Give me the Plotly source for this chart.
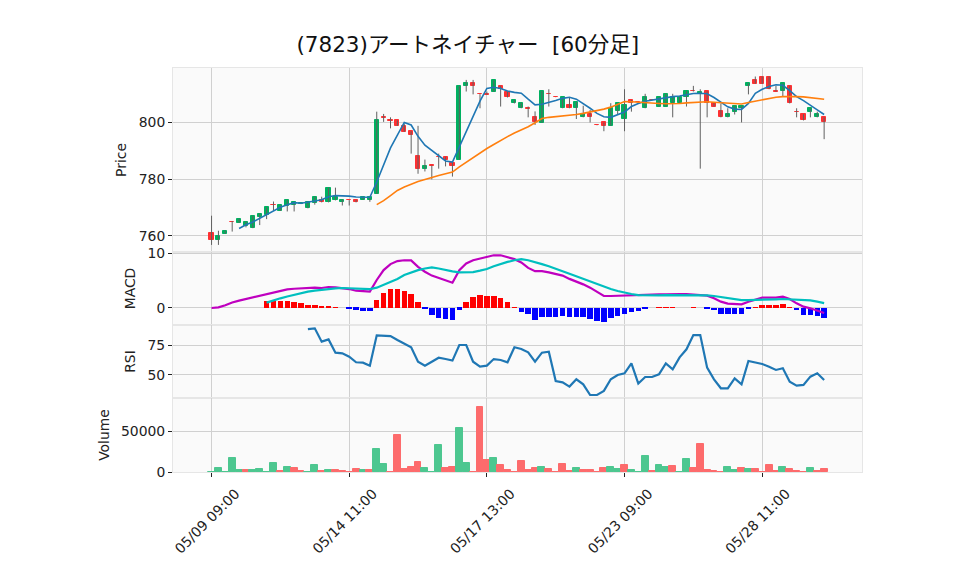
import plotly.graph_objects as go
from plotly.subplots import make_subplots

# trading days and hourly bars (6 bars a day)
days = ["05/09", "05/10", "05/13", "05/14", "05/15", "05/16", "05/17", "05/20",
        "05/21", "05/22", "05/23", "05/24", "05/27", "05/28", "05/29"]
hours = ["09:00", "10:00", "11:00", "12:00", "13:00", "14:00"]
times = [d + " " + h for d in days for h in hours]

opens = [761.1, 758.7, 760.8, 765.0, 764.7, 763.6, 762.7, 766.7, 767.5, 771.0,
         768.8, 770.7, 770.9, 771.3, 769.7, 771.5, 772.5, 771.8, 772.5, 771.8,
         772.6, 772.7, 772.7, 772.7, 774.8, 801.8, 800.7, 800.7, 798.8, 796.9,
         788.0, 783.5, 784.8, 787.9, 787.9, 785.8, 786.9, 812.7, 813.8, 810.0,
         810.1, 810.9, 812.9, 810.9, 806.7, 805.0, 805.0, 801.8, 799.9, 810.1,
         809.0, 805.0, 806.1, 805.0, 801.8, 802.9, 799.0, 800.0, 798.9, 804.0,
         801.2, 807.9, 807.2, 805.0, 807.9, 805.6, 805.6, 806.7, 806.7, 808.9,
         811.0, 810.0, 811.0, 807.0, 804.0, 801.8, 803.8, 805.0, 812.7, 815.0,
         816.2, 816.2, 811.1, 811.0, 812.9, 803.8, 802.9, 803.8, 801.8, 801.8]
highs = [767.1, 761.8, 761.8, 765.2, 766.0, 765.0, 767.1, 767.8, 770.0, 772.1,
         770.8, 772.7, 772.0, 771.6, 772.0, 773.8, 773.8, 777.0, 777.0, 772.8,
         772.6, 772.7, 773.8, 773.6, 803.8, 803.0, 801.8, 800.7, 799.6, 796.9,
         798.8, 786.9, 784.8, 789.0, 787.9, 785.8, 812.8, 815.0, 815.0, 810.0,
         810.9, 814.9, 812.9, 810.9, 807.9, 806.9, 805.6, 803.9, 811.1, 811.7,
         809.0, 808.8, 808.8, 807.2, 805.9, 804.4, 799.0, 800.0, 806.8, 806.7,
         811.7, 807.9, 807.2, 810.1, 807.9, 808.9, 810.1, 810.1, 808.9, 811.1,
         812.9, 811.7, 811.0, 807.0, 806.7, 805.0, 805.9, 805.9, 813.8, 816.2,
         816.2, 816.2, 812.9, 813.8, 812.9, 805.0, 802.9, 805.0, 803.8, 801.8]
lows = [756.8, 756.8, 760.8, 761.5, 764.6, 763.0, 762.7, 763.8, 765.9, 768.9,
        768.8, 768.6, 768.6, 771.2, 769.7, 771.0, 771.8, 771.8, 772.5, 770.7,
        770.7, 771.8, 772.7, 772.0, 774.8, 800.2, 797.9, 798.8, 796.7, 789.0,
        781.9, 782.7, 779.9, 783.7, 784.5, 780.9, 786.9, 810.9, 809.9, 805.0,
        809.8, 810.9, 805.6, 808.8, 806.7, 805.0, 801.8, 799.1, 799.9, 805.6,
        808.9, 805.0, 805.0, 801.2, 801.8, 800.0, 798.9, 796.9, 798.9, 802.8,
        796.9, 803.8, 807.1, 805.0, 807.8, 805.6, 805.6, 801.8, 806.7, 805.6,
        810.9, 783.7, 801.8, 805.6, 801.8, 801.8, 802.8, 800.0, 809.9, 813.7,
        813.6, 811.7, 810.9, 809.1, 806.7, 801.8, 800.7, 801.8, 801.8, 794.1]
closes = [758.7, 760.0, 761.8, 764.8, 765.9, 765.0, 767.1, 767.8, 770.0, 770.9,
          770.8, 772.7, 772.0, 771.5, 772.0, 773.8, 771.8, 777.0, 773.8, 772.8,
          772.5, 771.8, 773.8, 773.6, 800.7, 801.7, 800.6, 798.8, 796.7, 795.6,
          783.5, 784.7, 784.7, 787.8, 786.7, 784.6, 812.8, 813.8, 812.7, 809.9,
          809.8, 814.9, 811.8, 808.8, 807.9, 806.9, 804.9, 800.2, 811.1, 810.0,
          808.95, 808.8, 805.0, 807.2, 802.9, 801.8, 798.95, 798.9, 805.0, 806.7,
          806.1, 806.7, 807.1, 808.9, 807.8, 808.9, 810.1, 808.9, 808.9, 811.1,
          810.95, 810.9, 806.7, 805.6, 801.8, 802.9, 805.9, 805.8, 813.8, 813.7,
          813.6, 811.7, 810.9, 813.8, 806.7, 803.7, 800.7, 805.0, 803.0, 800.0]
volumes = [300, 4400, 300, 17600, 2000, 2000, 2000, 3200, 300, 11600,
           800, 5600, 4400, 800, 300, 9200, 800, 2000, 2000, 800,
           300, 3200, 2000, 2000, 28400, 10400, 300, 45200, 3200, 5600,
           12800, 4400, 300, 33200, 4400, 5600, 53600, 11600, 300, 80000,
           15200, 17600, 9200, 2000, 300, 14000, 2000, 4400, 5600, 3200,
           300, 10400, 800, 4400, 2000, 2000, 300, 4400, 5600, 3200,
           9200, 2000, 300, 20000, 800, 8000, 5600, 6800, 300, 16400,
           4400, 34400, 2000, 800, 300, 5600, 2000, 4400, 3200, 3200,
           300, 9200, 800, 5600, 3200, 800, 300, 4400, 800, 3200]

# moving averages (start at bar 4 and bar 24)
ma5_start = 4
ma5 = [762.6, 763.9, 764.9, 766.2, 767.3, 768.6, 770.1, 771.0, 771.7, 771.5,
       771.8, 772.3, 772.7, 773.8, 774.2, 774.2, 774.0, 773.7, 773.6, 773.6,
       779.0, 785.0, 791.0, 795.5, 800.0, 799.1, 795.1, 792.0, 790.2, 788.2,
       786.4, 786.0, 791.5, 796.5, 802.0, 807.5, 812.0, 812.4, 812.0, 811.1,
       810.6, 810.3, 808.2, 806.2, 806.4, 807.0, 807.7, 808.5, 808.9, 808.2,
       806.7, 805.0, 803.2, 802.0, 801.8, 802.8, 803.7, 805.6, 806.7, 807.5,
       807.9, 808.4, 808.8, 809.1, 809.3, 809.8, 810.2, 810.3, 810.1, 808.8,
       807.1, 805.5, 804.7, 804.6, 806.7, 810.3, 811.7, 812.7, 813.3, 813.1,
       811.2, 809.1, 807.7, 806.2, 804.4, 802.8]
ma25_start = 24
ma25 = [771.0, 772.4, 774.2, 776.0, 777.2, 778.3, 779.2, 779.9, 780.7, 781.3,
        781.9, 782.5, 784.3, 786.0, 787.6, 789.2, 790.8, 792.2, 793.7, 795.0,
        796.3, 797.3, 798.5, 799.9, 801.4, 801.8, 802.0, 802.2, 802.5, 802.8,
        803.2, 803.7, 804.1, 804.7, 805.4, 806.5, 807.4, 807.3, 807.1, 807.0,
        806.9, 806.7, 806.6, 806.6, 806.7, 806.9, 807.0, 807.1, 807.3, 807.1,
        806.9, 806.7, 806.5, 806.5, 807.0, 807.5, 807.9, 808.4, 808.9, 809.1,
        809.2, 809.1, 809.0, 808.8, 808.5, 808.2]

macd = [0.0, 0.12, 0.5, 1.0, 1.33, 1.64, 1.94, 2.24, 2.6, 2.9,
        3.2, 3.4, 3.5, 3.58, 3.58, 3.7, 3.64, 3.82, 3.76, 3.64,
        3.45, 3.15, 3.03, 2.97, 5.1, 6.9, 8.0, 8.55, 8.7, 8.67,
        7.5, 6.6, 5.9, 5.5, 5.1, 4.6, 6.9, 8.1, 8.7, 9.0,
        9.2, 9.6, 9.6, 9.2, 8.9, 8.3, 7.3, 6.7, 6.7, 6.5,
        6.24, 5.9, 5.3, 4.85, 4.3, 3.7, 2.97, 2.18, 2.18, 2.24,
        2.24, 2.24, 2.3, 2.36, 2.42, 2.48, 2.48, 2.55, 2.55, 2.55,
        2.48, 2.36, 2.24, 1.76, 1.15, 0.8, 0.67, 0.67, 1.15, 1.58,
        1.88, 1.88, 1.88, 2.06, 1.64, 0.85, 0.24, -0.06, -0.5, -0.9]
sig_start = 8
signal = [0.97, 1.4, 1.76, 2.1, 2.4, 2.7, 2.97, 3.15, 3.33, 3.45,
          3.58, 3.64, 3.58, 3.58, 3.5, 3.45, 3.7, 4.2, 4.7, 5.3,
          6.0, 6.5, 6.9, 7.2, 7.4, 7.2, 6.9, 6.67, 6.5, 6.5,
          6.55, 6.8, 7.1, 7.6, 8.06, 8.4, 8.7, 8.9, 8.7, 8.4,
          8.0, 7.6, 7.2, 6.7, 6.24, 5.76, 5.27, 4.8, 4.3, 3.9,
          3.45, 3.1, 2.8, 2.55, 2.36, 2.3, 2.3, 2.3, 2.36, 2.36,
          2.36, 2.36, 2.36, 2.36, 2.3, 2.18, 2.0, 1.76, 1.58, 1.45,
          1.45, 1.45, 1.45, 1.5, 1.58, 1.64, 1.58, 1.58, 1.5, 1.4,
          1.15, 0.9]
hist = [1.33, 1.33, 1.33, 1.27, 1.1, 0.9, 0.55, 0.55, 0.36, 0.36,
        0.18, 0.0, -0.06, -0.3, -0.5, -0.5, 1.5, 2.7, 3.45, 3.45,
        3.1, 2.55, 1.1, -0.06, -1.2, -1.76, -1.94, -2.1, -0.3, 1.1,
        2.0, 2.36, 2.24, 2.18, 1.9, 1.15, 0.02, -0.67, -1.15, -2.1,
        -1.7, -1.64, -1.58, -1.45, -1.58, -1.58, -1.7, -2.0, -2.3, -2.48,
        -1.88, -1.4, -1.1, -0.67, -0.5, -0.06, 0.0, 0.18, 0.18, 0.18,
        0.0, 0.0, 0.18, 0.0, -0.06, -0.42, -1.1, -1.1, -1.1, -1.1,
        -0.18, 0.18, 0.55, 0.55, 0.55, 0.73, 0.18, -0.42, -1.2, -1.2,
        -1.4, -1.76]

rsi_start = 14
rsi = [88.3, 88.9, 77.8, 79.7, 68.6, 68.1, 65.3, 60.6, 60.3, 57.8,
       83.1, 82.8, 82.5, 79.2, 75.8, 73.1, 61.1, 57.8, 61.1, 64.4,
       63.3, 62.0, 75.0, 75.0, 61.1, 56.9, 57.8, 63.3, 62.5, 60.6,
       73.1, 71.7, 68.9, 61.1, 68.6, 69.4, 45.0, 43.9, 40.3, 46.4,
       42.2, 33.3, 33.3, 36.7, 46.4, 50.0, 51.4, 59.7, 42.8, 48.3,
       48.3, 50.6, 59.7, 54.7, 64.7, 71.4, 83.3, 83.3, 56.1, 46.4,
       38.9, 38.9, 47.2, 42.2, 61.7, 60.6, 59.2, 56.9, 54.2, 55.6,
       44.4, 41.1, 41.7, 48.6, 51.4, 45.8]

UP, DOWN = "#00b060", "#fe3032"
VOL_UP, VOL_DOWN = "#4dc790", "#fd6b6c"
GRID = "#d0d0d0"
FONT = "DejaVu Sans, Noto Sans CJK JP"

idx = list(range(len(closes)))

fig = make_subplots(rows=4, cols=1, shared_xaxes=True, vertical_spacing=0,
                    row_heights=[184, 73, 73, 74])

# wicks
wx, wy = [], []
for i in idx:
    wx += [i, i, None]
    wy += [lows[i], highs[i], None]
fig.add_trace(go.Scatter(x=wx, y=wy, mode="lines", line=dict(color="#606060", width=1),
                         hoverinfo="skip"), row=1, col=1)

# bodies
body_base = [min(o, c) for o, c in zip(opens, closes)]
body_h = [max(abs(c - o), 0.15) for o, c in zip(opens, closes)]
body_col = [UP if c >= o else DOWN for o, c in zip(opens, closes)]
fig.add_trace(go.Bar(x=idx, y=body_h, base=body_base, width=0.6,
                     marker=dict(color=body_col, line=dict(color=body_col, width=1))),
              row=1, col=1)

fig.add_trace(go.Scatter(x=list(range(ma5_start, ma5_start + len(ma5))), y=ma5,
                         mode="lines", line=dict(color="#1f77b4", width=1.6)), row=1, col=1)
fig.add_trace(go.Scatter(x=list(range(ma25_start, ma25_start + len(ma25))), y=ma25,
                         mode="lines", line=dict(color="#ff7f0e", width=1.6)), row=1, col=1)

# MACD
hx = list(range(sig_start, sig_start + len(hist)))
fig.add_trace(go.Bar(x=hx, y=hist, width=0.8,
                     marker=dict(color=["#ff0000" if h >= 0 else "#0000ff" for h in hist],
                                 line=dict(width=0))), row=2, col=1)
fig.add_trace(go.Scatter(x=idx, y=macd, mode="lines",
                         line=dict(color="#bf00bf", width=2.2)), row=2, col=1)
fig.add_trace(go.Scatter(x=list(range(sig_start, sig_start + len(signal))), y=signal,
                         mode="lines", line=dict(color="#00bfbf", width=2.2)), row=2, col=1)

# RSI
fig.add_trace(go.Scatter(x=list(range(rsi_start, rsi_start + len(rsi))), y=rsi,
                         mode="lines", line=dict(color="#1f77b4", width=2.2)), row=3, col=1)

# volume, coloured by close-to-close change
vol_col = [VOL_UP] + [VOL_UP if closes[i] >= closes[i - 1] else VOL_DOWN for i in idx[1:]]
fig.add_trace(go.Bar(x=idx, y=volumes, width=1.0,
                     marker=dict(color=vol_col, line=dict(color=vol_col, width=1))),
              row=4, col=1)

# page body has an 8px margin, so the figure is a bit smaller than the window
fig.update_layout(
    width=950, height=567,
    margin=dict(l=165, r=96, t=60, b=103),
    paper_bgcolor="white", plot_bgcolor="#fafafa",
    showlegend=False, barmode="overlay", bargap=0,
    font=dict(family=FONT, size=13.9, color="#222222"),
    title=dict(text="(7823)アートネイチャー  [60分足]", x=0.484, xanchor="center",
               y=0.935, yanchor="middle", font=dict(family=FONT, size=21.5, color="#111111")),
)

tick_pos = [0, 20, 40, 60, 80]
fig.update_xaxes(range=[-5.6, 94.5], tickvals=tick_pos, ticktext=[times[t] for t in tick_pos],
                 showgrid=True, gridcolor=GRID, gridwidth=1, zeroline=False,
                 showline=True, linecolor="#e6e6e6", mirror=True)
# labels centred on their tick, as in the original
fig.update_xaxes(ticks="outside", ticklen=4, tickcolor="#222222", tickangle=-45,
                 ticklabelshift=24, ticklabelstandoff=3, row=4, col=1)

fig.update_yaxes(showgrid=True, gridcolor=GRID, gridwidth=1, zeroline=False,
                 ticks="outside", ticklen=4, tickcolor="#222222",
                 showline=True, linecolor="#e6e6e6", mirror=True,
                 title_standoff=8, title_font=dict(size=13.9))
fig.update_yaxes(title_text="Price", range=[754.3, 819.2], tickvals=[760, 780, 800], row=1, col=1)
fig.update_yaxes(title_text="MACD", range=[-3.1, 10.2], tickvals=[0, 10], row=2, col=1)
fig.update_yaxes(title_text="RSI", range=[30.8, 91.7], tickvals=[50, 75], row=3, col=1)
fig.update_yaxes(title_text="Volume", range=[0, 91000], tickvals=[0, 50000],
                 tickformat="d", row=4, col=1)

fig.write_html("out.html")
